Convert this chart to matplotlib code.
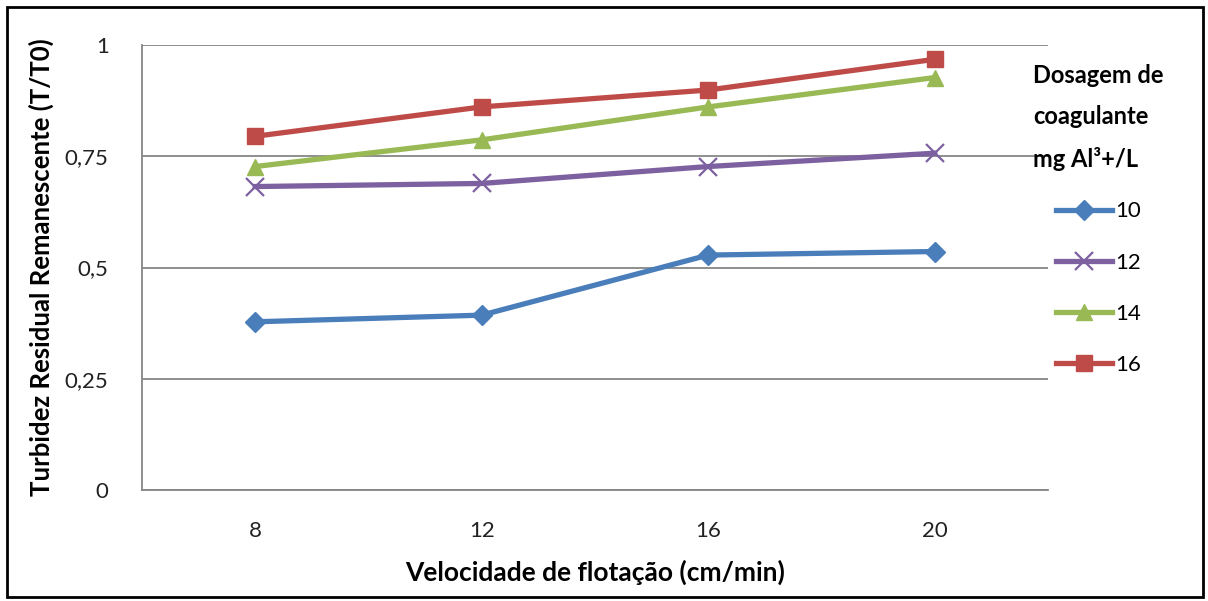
import matplotlib.pyplot as plt
from matplotlib.patches import Rectangle

plt.rcParams['font.family'] = ['Lato', 'DejaVu Sans']

velocidades = ['8', '12', '16', '20']
doses = ['10', '12', '14', '16']
dose_10 = [0.378, 0.393, 0.528, 0.536]
dose_12 = [0.682, 0.689, 0.727, 0.757]
dose_14 = [0.727, 0.787, 0.861, 0.927]
dose_16 = [0.795, 0.861, 0.899, 0.968]
y_ticks = [0, 0.25, 0.5, 0.75, 1]
y_labels = ['0', '0,25', '0,5', '0,75', '1']

series = [dose_10, dose_12, dose_14, dose_16]
colors = ['#4A7EBB', '#7D60A0', '#98B954', '#BE4B48']
markers = ['D', 'x', '^', 's']
msizes = [10, 13, 12, 12]

fig = plt.figure(figsize=(12.08, 6.01), dpi=100)
ax = fig.add_axes([0.1175, 0.1847, 0.75, 0.7403])

x = range(len(velocidades))
for vals, lab, c, m, ms in zip(series, doses, colors, markers, msizes):
    ax.plot(x, vals, color=c, lw=3.8, marker=m, markersize=ms,
            markeredgewidth=1.6 if m == 'x' else 1, label=lab)

ax.set_xlim(-0.5, 3.5)
ax.set_ylim(0, 1)
ax.set_xticks(list(x))
ax.set_xticklabels(velocidades)
ax.set_yticks(y_ticks)
ax.set_yticklabels(y_labels)
ax.yaxis.grid(True, color='#868686', lw=1.3)
ax.set_axisbelow(True)
for s in ['top', 'right']:
    ax.spines[s].set_visible(False)
for s in ['left', 'bottom']:
    ax.spines[s].set_color('#868686')
    ax.spines[s].set_linewidth(1.3)
ax.tick_params(length=0, labelsize=16, colors='#222222')
ax.tick_params(axis='x', pad=22)
ax.tick_params(axis='y', pad=24)

ax.set_xlabel('Velocidade de flotação (cm/min)', fontsize=19, fontweight='bold', labelpad=14)
ax.set_ylabel('Turbidez Residual Remanescente (T/T0)', fontsize=18.5, fontweight='bold', labelpad=8)

leg = fig.legend(*ax.get_legend_handles_labels(), loc='upper left',
                 bbox_to_anchor=(0.848, 0.908), frameon=False,
                 title='Dosagem de\ncoagulante\nmg Al³+/L', fontsize=16,
                 handlelength=2.5, handletextpad=0.15, labelspacing=1.4,
                 borderaxespad=0)
leg.get_title().set_fontsize(17)
leg.get_title().set_fontweight('bold')
leg.get_title().set_linespacing(1.94)
leg._legend_box.sep = 22

fig.patches.append(Rectangle((0.006, 0.006), 0.99, 0.982, transform=fig.transFigure,
                             fill=False, edgecolor='black', lw=2))

fig.savefig('out.png', dpi=100)
